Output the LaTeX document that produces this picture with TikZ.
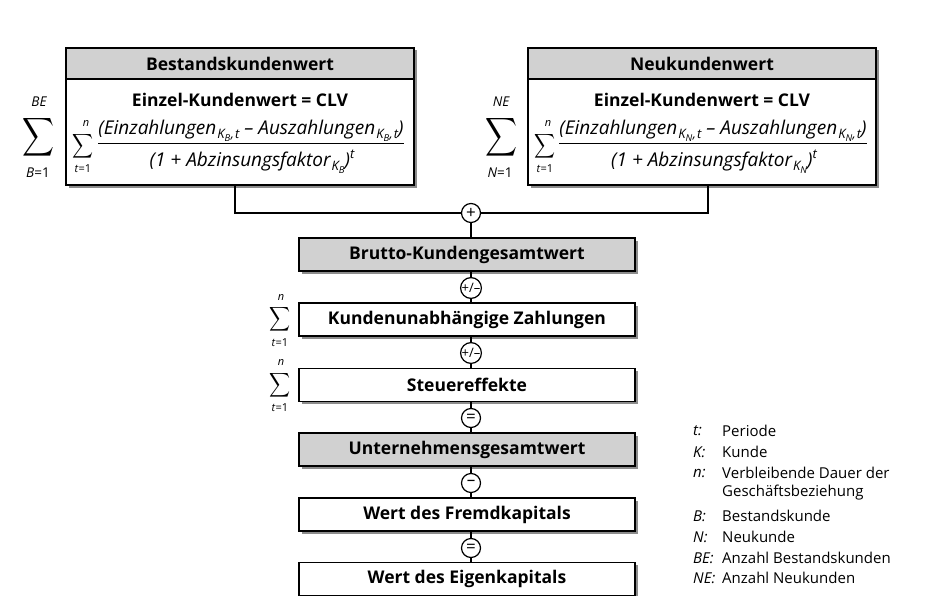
\RequirePackage{fix-cm}
\documentclass[tikz,border=0pt]{standalone}
\usepackage{amsmath}
\usepackage{exscale}
\usepackage{fontspec}
\setmainfont{Open Sans}
\usetikzlibrary{shadows}

% summation signs of fixed size
\newcommand\bigsum{\resizebox*{32pt}{43pt}{$\displaystyle\sum$}}
\newcommand\midsum{\resizebox*{21pt}{27pt}{$\displaystyle\sum$}}
% customer index K with subscript, optionally followed by ",t"
\newcommand\kidx[2]{\raisebox{-4pt}{\fontsize{13}{13}\selectfont\itshape K\raisebox{-2.5pt}{\fontsize{9.5}{10}\selectfont #1}#2}}
\newcommand\numer[1]{{\itshape (Einzahlungen\kern1pt\kidx{#1}{\kern0.5pt,\kern1pt t} – Auszahlungen\kern1pt\kidx{#1}{\kern0.5pt,\kern1pt t})}}
\newcommand\denom[1]{{\itshape (1 + Abzinsungsfaktor\kern1pt\kidx{#1}{})\raisebox{9pt}{\fontsize{13}{13}\selectfont t}}}

\begin{document}
\begin{tikzpicture}[x=1pt,y=-1pt,
  shade/.style={copy shadow={shadow xshift=2.5pt,shadow yshift=-2.5pt,fill=black!45,draw=none}},
  box/.style={draw=black,line width=1.3pt,fill=white,minimum width=336pt,minimum height=33pt,
    inner sep=0pt,font=\bfseries\fontsize{17.5}{20}\selectfont,shade},
  graybox/.style={box,fill=black!18},
  bigbox/.style={draw=black,line width=1.3pt,fill=white,minimum width=348pt,minimum height=137pt,
    inner sep=0pt,shade},
  headbox/.style={draw=black,line width=1.3pt,fill=black!18,minimum width=348pt,minimum height=31pt,
    inner sep=0pt,font=\bfseries\fontsize{17.5}{20}\selectfont},
  op/.style={circle,draw=black,line width=1.2pt,fill=white,minimum size=19pt,inner sep=0pt,
    font=\fontsize{17}{17}\selectfont},
  pm/.style={op,font=\fontsize{13}{13}\selectfont},
  link/.style={line width=2.2pt},
  num/.style={anchor=base,font=\fontsize{19}{20}\selectfont,inner sep=0pt,text depth=8pt},
  den/.style={anchor=base,font=\fontsize{19}{20}\selectfont,inner sep=0pt},
  fracline/.style={line width=0.9pt},
  title/.style={font=\bfseries\fontsize{17.5}{20}\selectfont,inner sep=0pt},
  lim/.style={font=\fontsize{13.5}{14}\selectfont,inner sep=0pt},
  smalllim/.style={font=\fontsize{11}{12}\selectfont,inner sep=0pt},
  key/.style={anchor=west,font=\itshape\fontsize{15}{17}\selectfont,inner sep=0pt},
  keytext/.style={anchor=west,font=\fontsize{15}{17}\selectfont,inner sep=0pt}]

\useasboundingbox (0,0) rectangle (925,596);
\fill[white] (0,0) rectangle (925,596);

% existing-customer block
\node[bigbox] (bkw) at (240,116.5) {};
\node[headbox] (bkwh) at (240,63.5) {Bestandskundenwert};
\node[title] (bkwt) at (240,100) {Einzel-Kundenwert = CLV};
\node[num] (bkwn) at (251,135) {\numer{B}};
\node[den] (bkwd) at (252,167) {\denom{B}};
\draw[fracline] (bkwn.south west) -- (bkwn.south east);
\node[inner sep=0pt] (bkwi) at (83,146) {\midsum};
\node[smalllim,font=\itshape\fontsize{11}{12}\selectfont] (bkwin) at (86,123) {n};
\node[smalllim] (bkwit) at (83,169) {\textit{t}=1};
\node[inner sep=0pt] (bkws) at (39,137) {\bigsum};
\node[lim,font=\itshape\fontsize{13.5}{14}\selectfont] (bkwu) at (39,102) {BE};
\node[lim] (bkwl) at (38,173) {\textit{B}=1};

% new-customer block
\node[bigbox] (nkw) at (702,116.5) {};
\node[headbox] (nkwh) at (702,63.5) {Neukundenwert};
\node[title] (nkwt) at (702,100) {Einzel-Kundenwert = CLV};
\node[num] (nkwn) at (713,135) {\numer{N}};
\node[den] (nkwd) at (714,167) {\denom{N}};
\draw[fracline] (nkwn.south west) -- (nkwn.south east);
\node[inner sep=0pt] (nkwi) at (545,146) {\midsum};
\node[smalllim,font=\itshape\fontsize{11}{12}\selectfont] (nkwin) at (548,123) {n};
\node[smalllim] (nkwit) at (545,169) {\textit{t}=1};
\node[inner sep=0pt] (nkws) at (501,137) {\bigsum};
\node[lim,font=\itshape\fontsize{13.5}{14}\selectfont] (nkwu) at (501,102) {NE};
\node[lim] (nkwl) at (500,173) {\textit{N}=1};

% aggregation chain
\node[op] (plus) at (471,213) {+};
\node[graybox] (brutto) at (467,254.5) {Brutto-Kundengesamtwert};
\node[pm] (op1) at (471,288) {+/–};
\node[box] (kund) at (467,319.5) {Kundenunabhängige Zahlungen};
\node[pm] (op2) at (471,353) {+/–};
\node[box] (steuer) at (467,385) {Steuereffekte};
\node[op] (op3) at (471,418) {=};
\node[graybox] (ugw) at (467,449.5) {Unternehmensgesamtwert};
\node[op] (op4) at (471,483) {–};
\node[box] (fremd) at (467,514.5) {Wert des Fremdkapitals};
\node[op] (op5) at (471,548) {=};
\node[box] (eigen) at (467,579) {Wert des Eigenkapitals};

\draw[link] ([xshift=-5pt]bkw.south) |- (plus.west);
\draw[link] ([xshift=6pt]nkw.south) |- (plus.east);
\draw[link] (plus.south) -- (plus.south |- brutto.north);
\draw[link] (op1.north |- brutto.south) -- (op1.north);
\draw[link] (op1.south) -- (op1.south |- kund.north);
\draw[link] (op2.north |- kund.south) -- (op2.north);
\draw[link] (op2.south) -- (op2.south |- steuer.north);
\draw[link] (op3.north |- steuer.south) -- (op3.north);
\draw[link] (op3.south) -- (op3.south |- ugw.north);
\draw[link] (op4.north |- ugw.south) -- (op4.north);
\draw[link] (op4.south) -- (op4.south |- fremd.north);
\draw[link] (op5.north |- fremd.south) -- (op5.north);
\draw[link] (op5.south) -- (op5.south |- eigen.north);

% period sums beside the chain
\node[inner sep=0pt] (s1) at (280,319.5) {\midsum};
\node[smalllim,font=\itshape\fontsize{11}{12}\selectfont] (s1u) at (281,297) {n};
\node[smalllim] (s1l) at (280,343) {\textit{t}=1};
\node[inner sep=0pt] (s2) at (280,385) {\midsum};
\node[smalllim,font=\itshape\fontsize{11}{12}\selectfont] (s2u) at (281,362) {n};
\node[smalllim] (s2l) at (280,408) {\textit{t}=1};

% legend
\node[key] (k1) at (693,431) {t:};   \node[keytext] (k1t) at (722,431) {Periode};
\node[key] (k2) at (693,452) {K:};   \node[keytext] (k2t) at (722,452) {Kunde};
\node[key] (k3) at (693,473) {n:};   \node[keytext] (k3t) at (722,473) {Verbleibende Dauer der};
                                     \node[keytext] (k3u) at (722,493) {Geschäftsbeziehung};
\node[key] (k4) at (693,516) {B:};   \node[keytext] (k4t) at (722,516) {Bestandskunde};
\node[key] (k5) at (693,537) {N:};   \node[keytext] (k5t) at (722,537) {Neukunde};
\node[key] (k6) at (693,558) {BE:};  \node[keytext] (k6t) at (722,558) {Anzahl Bestandskunden};
\node[key] (k7) at (693,578) {NE:};  \node[keytext] (k7t) at (722,578) {Anzahl Neukunden};
\end{tikzpicture}
\end{document}
